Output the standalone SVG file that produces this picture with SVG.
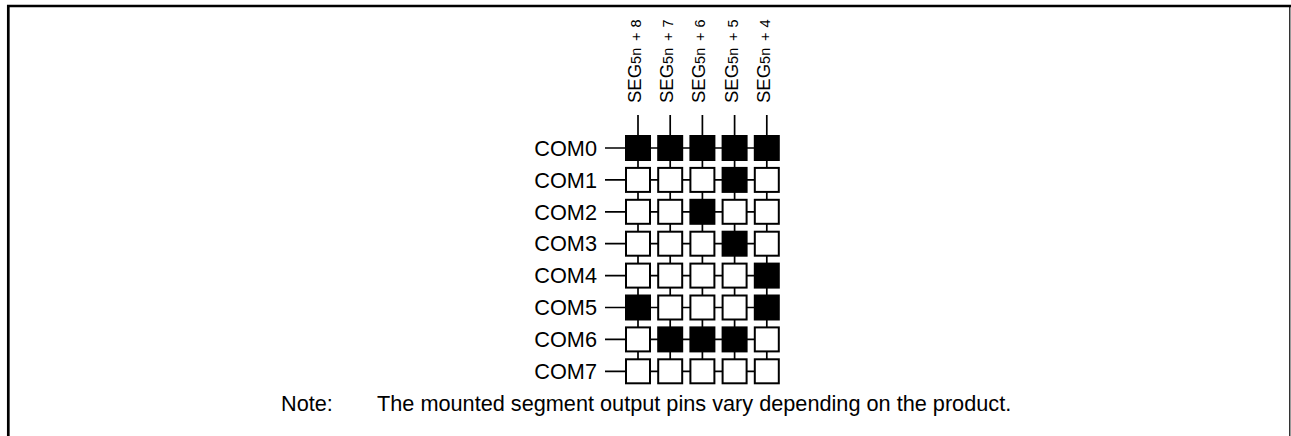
<svg xmlns="http://www.w3.org/2000/svg" width="1291" height="436" viewBox="0 0 1291 436">
<style>
.frame{fill:none;stroke:#000}
.ln{stroke:#000;stroke-width:1.7;fill:none}
.on{fill:#000;stroke:#000;stroke-width:2}
.off{fill:#fff;stroke:#000;stroke-width:2}
.lbl{font-family:"Liberation Sans",Arial,sans-serif;font-size:21.7px;fill:#000}
.seg{font-family:"Liberation Sans",Arial,sans-serif;font-size:18.5px;fill:#000}
.sub{font-size:14.5px}
</style>
<rect width="1291" height="436" fill="#fff"/>
<g id="frame">
<path class="frame" d="M8.3 436 V6 H1291" stroke-width="2.7"/>
<line class="frame" x1="1289.8" y1="6" x2="1289.8" y2="436" stroke-width="1.2"/>
</g>
<g id="connectors">
<line class="ln" x1="638" y1="115" x2="638" y2="371.3"/>
<line class="ln" x1="670.2" y1="115" x2="670.2" y2="371.3"/>
<line class="ln" x1="702.4" y1="115" x2="702.4" y2="371.3"/>
<line class="ln" x1="734.6" y1="115" x2="734.6" y2="371.3"/>
<line class="ln" x1="766.8" y1="115" x2="766.8" y2="371.3"/>
<line class="ln" x1="605" y1="148" x2="766.8" y2="148"/>
<line class="ln" x1="605" y1="179.9" x2="766.8" y2="179.9"/>
<line class="ln" x1="605" y1="211.8" x2="766.8" y2="211.8"/>
<line class="ln" x1="605" y1="243.7" x2="766.8" y2="243.7"/>
<line class="ln" x1="605" y1="275.6" x2="766.8" y2="275.6"/>
<line class="ln" x1="605" y1="307.5" x2="766.8" y2="307.5"/>
<line class="ln" x1="605" y1="339.4" x2="766.8" y2="339.4"/>
<line class="ln" x1="605" y1="371.3" x2="766.8" y2="371.3"/>
</g>
<g id="seg-labels">
<g id="seg8" transform="translate(641,103) rotate(-90)"><text class="seg" x="0" y="0">SEG<tspan class="sub">5n</tspan><tspan class="sub" x="62">+</tspan><tspan class="sub" x="75.5">8</tspan></text></g>
<g id="seg7" transform="translate(673.2,103) rotate(-90)"><text class="seg" x="0" y="0">SEG<tspan class="sub">5n</tspan><tspan class="sub" x="62">+</tspan><tspan class="sub" x="75.5">7</tspan></text></g>
<g id="seg6" transform="translate(705.4,103) rotate(-90)"><text class="seg" x="0" y="0">SEG<tspan class="sub">5n</tspan><tspan class="sub" x="62">+</tspan><tspan class="sub" x="75.5">6</tspan></text></g>
<g id="seg5" transform="translate(737.6,103) rotate(-90)"><text class="seg" x="0" y="0">SEG<tspan class="sub">5n</tspan><tspan class="sub" x="62">+</tspan><tspan class="sub" x="75.5">5</tspan></text></g>
<g id="seg4" transform="translate(769.8,103) rotate(-90)"><text class="seg" x="0" y="0">SEG<tspan class="sub">5n</tspan><tspan class="sub" x="62">+</tspan><tspan class="sub" x="75.5">4</tspan></text></g>
</g>
<g id="com-labels" class="lbl" text-anchor="end">
<text id="com0" x="597" y="155.7">COM0</text>
<text id="com1" x="597" y="187.6">COM1</text>
<text id="com2" x="597" y="219.5">COM2</text>
<text id="com3" x="597" y="251.4">COM3</text>
<text id="com4" x="597" y="283.3">COM4</text>
<text id="com5" x="597" y="315.2">COM5</text>
<text id="com6" x="597" y="347.1">COM6</text>
<text id="com7" x="597" y="379">COM7</text>
</g>
<g id="cells">
<g id="r0"><rect class="on" x="626" y="136" width="24" height="24"/><rect class="on" x="658.2" y="136" width="24" height="24"/><rect class="on" x="690.4" y="136" width="24" height="24"/><rect class="on" x="722.6" y="136" width="24" height="24"/><rect class="on" x="754.8" y="136" width="24" height="24"/></g>
<g id="r1"><rect class="off" x="626" y="167.9" width="24" height="24"/><rect class="off" x="658.2" y="167.9" width="24" height="24"/><rect class="off" x="690.4" y="167.9" width="24" height="24"/><rect class="on" x="722.6" y="167.9" width="24" height="24"/><rect class="off" x="754.8" y="167.9" width="24" height="24"/></g>
<g id="r2"><rect class="off" x="626" y="199.8" width="24" height="24"/><rect class="off" x="658.2" y="199.8" width="24" height="24"/><rect class="on" x="690.4" y="199.8" width="24" height="24"/><rect class="off" x="722.6" y="199.8" width="24" height="24"/><rect class="off" x="754.8" y="199.8" width="24" height="24"/></g>
<g id="r3"><rect class="off" x="626" y="231.7" width="24" height="24"/><rect class="off" x="658.2" y="231.7" width="24" height="24"/><rect class="off" x="690.4" y="231.7" width="24" height="24"/><rect class="on" x="722.6" y="231.7" width="24" height="24"/><rect class="off" x="754.8" y="231.7" width="24" height="24"/></g>
<g id="r4"><rect class="off" x="626" y="263.6" width="24" height="24"/><rect class="off" x="658.2" y="263.6" width="24" height="24"/><rect class="off" x="690.4" y="263.6" width="24" height="24"/><rect class="off" x="722.6" y="263.6" width="24" height="24"/><rect class="on" x="754.8" y="263.6" width="24" height="24"/></g>
<g id="r5"><rect class="on" x="626" y="295.5" width="24" height="24"/><rect class="off" x="658.2" y="295.5" width="24" height="24"/><rect class="off" x="690.4" y="295.5" width="24" height="24"/><rect class="off" x="722.6" y="295.5" width="24" height="24"/><rect class="on" x="754.8" y="295.5" width="24" height="24"/></g>
<g id="r6"><rect class="off" x="626" y="327.4" width="24" height="24"/><rect class="on" x="658.2" y="327.4" width="24" height="24"/><rect class="on" x="690.4" y="327.4" width="24" height="24"/><rect class="on" x="722.6" y="327.4" width="24" height="24"/><rect class="off" x="754.8" y="327.4" width="24" height="24"/></g>
<g id="r7"><rect class="off" x="626" y="359.3" width="24" height="24"/><rect class="off" x="658.2" y="359.3" width="24" height="24"/><rect class="off" x="690.4" y="359.3" width="24" height="24"/><rect class="off" x="722.6" y="359.3" width="24" height="24"/><rect class="off" x="754.8" y="359.3" width="24" height="24"/></g>
</g>
<g id="note" class="lbl">
<text x="281" y="411">Note:</text>
<text x="377" y="411">The mounted segment output pins vary depending on the product.</text>
</g>
</svg>
